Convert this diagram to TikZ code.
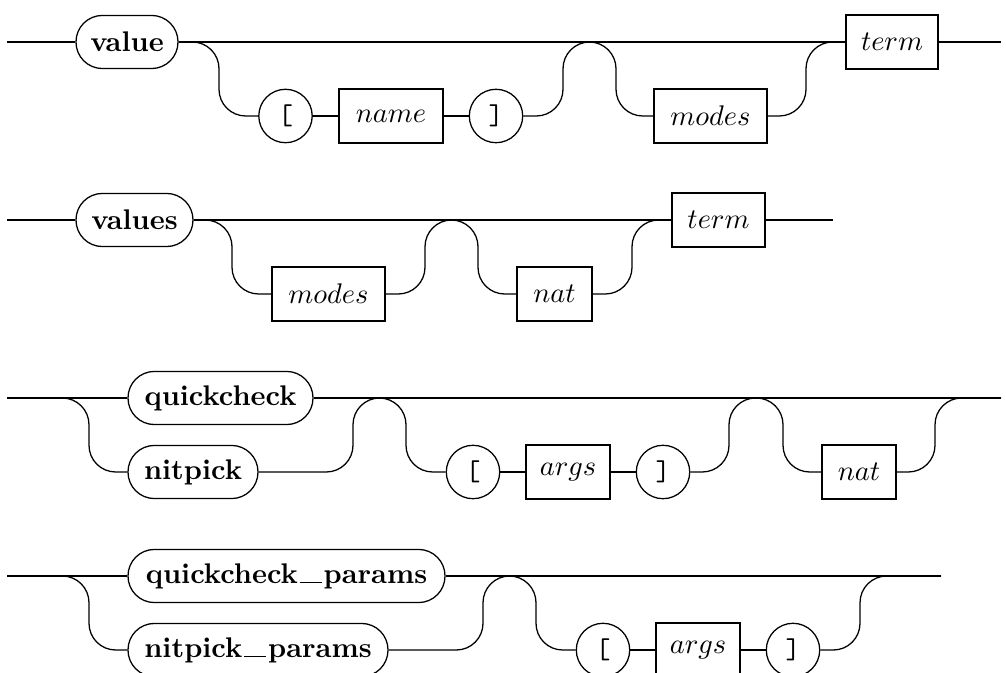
\documentclass[tikz,border=0pt]{standalone}
\usetikzlibrary{positioning}
\newcommand\railus{\kern0.7pt\rule{7.7pt}{0.5pt}\kern0.7pt}
\begin{document}
\begin{tikzpicture}[x=0.352pt,y=-0.352pt,
  line width=0.45pt,
  wd/.style={minimum width=#1*0.352pt},
  pill/.style={draw, rounded corners=9.3pt, minimum height=18.7pt, inner sep=0pt, font=\bfseries},
  box/.style={draw, minimum height=19pt, inner sep=0pt},
  circ/.style={draw, circle, minimum size=18.8pt, inner sep=0pt, font=\ttfamily},
  rail/.style={rounded corners=9.4pt}]
\useasboundingbox (0,0) rectangle (1006,673);
\clip (0,0) rectangle (1006,673);

% ---------- Row 1 ----------
\coordinate (s1) at (7,42);
\coordinate (e1) at (1001,42);
\node[pill, wd=102] (value) at (127,42) {value};
\node[circ] (lb1) at (285.5,116) {[};
\node[box, wd=104] (name1) at (391,116) {$name$};
\node[circ] (rb1) at (496,116) {]};
\node[box, wd=113] (modes1) at (710.5,116) {$modes$};
\node[box, wd=92] (term1) at (892,42) {$term$};
\draw (s1) -- (value.west);
\draw (value.east) -- (term1.west);
\draw[rail] (value.east) -- (219,42) -- (219,116) -- (lb1.west);
\draw (lb1.east) -- (name1.west);
\draw (name1.east) -- (rb1.west);
\draw[rail] (rb1.east) -- (563,116) -- (563,42) -- (616,42) -- (616,116) -- (modes1.west);
\draw[rail] (modes1.east) -- (806,116) -- (806,42) -- (term1.west);
\draw (term1.east) -- (e1);

% ---------- Row 2 ----------
\coordinate (s2) at (7,220);
\coordinate (e2) at (833,220);
\node[pill, wd=117] (values) at (134.5,220) {values};
\node[box, wd=113] (modes2) at (328.5,294) {$modes$};
\node[box, wd=75] (nat2) at (554.5,294) {$nat$};
\node[box, wd=93] (term2) at (718.5,220) {$term$};
\draw (s2) -- (values.west);
\draw (values.east) -- (term2.west);
\draw[rail] (values.east) -- (232,220) -- (232,294) -- (modes2.west);
\draw[rail] (modes2.east) -- (425,294) -- (425,220) -- (478,220) -- (478,294) -- (nat2.west);
\draw[rail] (nat2.east) -- (632,294) -- (632,220) -- (term2.west);
\draw (term2.east) -- (e2);

% ---------- Row 3 ----------
\coordinate (s3) at (7,398);
\coordinate (e3) at (1001,398);
\node[pill, wd=185] (qc) at (220.5,398) {quickcheck};
\node[pill, wd=130] (np) at (193,472) {nitpick};
\node[circ] (lb3) at (473,472) {[};
\node[box, wd=84] (args3) at (568,472) {$args$};
\node[circ] (rb3) at (663,472) {]};
\node[box, wd=74] (nat3) at (859,472) {$nat$};
\draw (s3) -- (qc.west);
\draw[rail] (s3) -- (89,398) -- (89,472) -- (np.west);
\draw (qc.east) -- (e3);
\draw[rail] (np.east) -- (353,472) -- (353,398) -- (406,398) -- (406,472) -- (lb3.west);
\draw (lb3.east) -- (args3.west);
\draw (args3.east) -- (rb3.west);
\draw[rail] (rb3.east) -- (729,472) -- (729,398) -- (783,398) -- (783,472) -- (nat3.west);
\draw[rail] (nat3.east) -- (935,472) -- (935,398) -- (e3);

% ---------- Row 4 ----------
\coordinate (s4) at (7,576);
\coordinate (e4) at (941,576);
\node[pill, wd=317] (qcp) at (286.5,576) {quickcheck\railus params};
\node[pill, wd=260] (npp) at (258,650) {nitpick\railus params};
\node[circ] (lb4) at (603,650) {[};
\node[box, wd=84] (args4) at (698,650) {$args$};
\node[circ] (rb4) at (793,650) {]};
\draw (s4) -- (qcp.west);
\draw[rail] (s4) -- (89,576) -- (89,650) -- (npp.west);
\draw (qcp.east) -- (e4);
\draw[rail] (npp.east) -- (483,650) -- (483,576) -- (536,576) -- (536,650) -- (lb4.west);
\draw (lb4.east) -- (args4.west);
\draw (args4.east) -- (rb4.west);
\draw[rail] (rb4.east) -- (860,650) -- (860,576) -- (e4);
\end{tikzpicture}
\end{document}
